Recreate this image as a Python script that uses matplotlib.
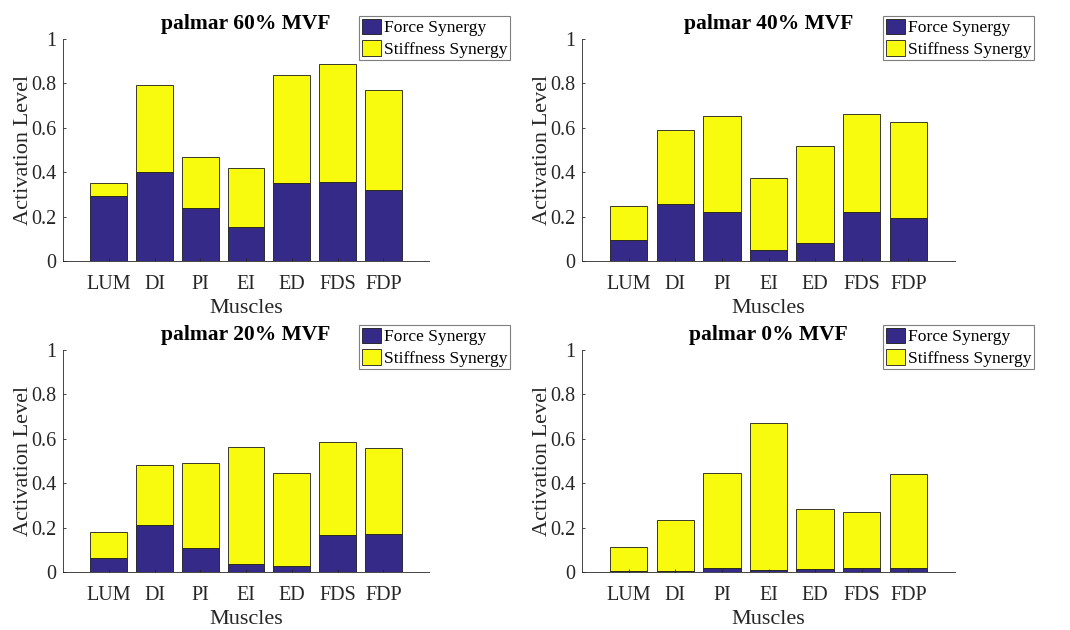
import matplotlib
matplotlib.use("Agg")
import matplotlib.pyplot as plt
import numpy as np

plt.rcParams['font.family'] = ['Liberation Serif', 'DejaVu Serif']

muscles = ["LUM", "DI", "PI", "EI", "ED", "FDS", "FDP"]
titles = ["palmar 60% MVF", "palmar 40% MVF", "palmar 20% MVF", "palmar 0% MVF"]

# force-synergy activation per muscle
force_60 = [0.295, 0.400, 0.237, 0.153, 0.352, 0.357, 0.322]
force_40 = [0.093, 0.258, 0.219, 0.051, 0.082, 0.219, 0.192]
force_20 = [0.063, 0.211, 0.109, 0.036, 0.027, 0.168, 0.171]
force_0 = [0.004, 0.003, 0.019, 0.010, 0.015, 0.018, 0.016]

# stiffness-synergy activation stacked on top of the force part
stiff_60 = [0.056, 0.395, 0.231, 0.265, 0.488, 0.531, 0.447]
stiff_40 = [0.153, 0.334, 0.435, 0.322, 0.437, 0.442, 0.432]
stiff_20 = [0.117, 0.270, 0.384, 0.526, 0.417, 0.417, 0.387]
stiff_0 = [0.108, 0.231, 0.429, 0.662, 0.268, 0.252, 0.425]

force_sets = [force_60, force_40, force_20, force_0]
stiff_sets = [stiff_60, stiff_40, stiff_20, stiff_0]

FORCE_COLOR = "#352a87"
STIFF_COLOR = "#f9fb0e"
AXIS_GRAY = "#262626"

W, H = 1070, 630
fig = plt.figure(figsize=(W / 100, H / 100), dpi=100)

# panel rectangles in pixels: (left, top, right, bottom)
panels = [(63, 39, 429, 261), (582, 39, 955, 261),
          (63, 350, 429, 572), (582, 350, 955, 572)]
legend_corners = [(359, 16), (883, 16), (359, 325), (883, 325)]

x = np.arange(1, len(muscles) + 1)

for k in range(4):
    l, t, r, b = panels[k]
    ax = fig.add_axes([l / W, 1 - b / H, (r - l) / W, (b - t) / H])
    f = np.array(force_sets[k])
    s = np.array(stiff_sets[k])
    ax.bar(x, f, width=0.8, color=FORCE_COLOR, edgecolor="#1a1a1a",
           linewidth=0.6, label="Force Synergy")
    ax.bar(x, s, width=0.8, bottom=f, color=STIFF_COLOR, edgecolor="#1a1a1a",
           linewidth=0.6, label="Stiffness Synergy")
    ax.set_xlim(0, 8)
    ax.set_ylim(0, 1)
    ax.set_xticks(x)
    ax.set_xticklabels(muscles)
    ax.set_yticks([0, 0.2, 0.4, 0.6, 0.8, 1])
    ax.set_yticklabels(["0", "0.2", "0.4", "0.6", "0.8", "1"])
    for side in ("top", "right"):
        ax.spines[side].set_visible(False)
    for side in ("left", "bottom"):
        ax.spines[side].set_color(AXIS_GRAY)
        ax.spines[side].set_linewidth(0.6)
    ax.tick_params(direction="in", length=2.5, width=0.6, colors=AXIS_GRAY,
                   labelsize=14.5, labelcolor=AXIS_GRAY, pad=5)
    ax.tick_params(axis="x", pad=10)
    ax.set_title(titles[k], fontsize=15.5, fontweight="bold", pad=7)
    ax.set_xlabel("Muscles", fontsize=16, color=AXIS_GRAY, labelpad=4)
    ax.set_ylabel("Activation Level", fontsize=16, color=AXIS_GRAY, labelpad=-1.5)
    lx, ly = legend_corners[k]
    leg = ax.legend(loc="upper left", bbox_to_anchor=(lx / W, 1 - ly / H),
                    bbox_transform=fig.transFigure, fontsize=12.6,
                    frameon=True, fancybox=False, framealpha=1,
                    edgecolor="#7f7f7f", borderpad=0.15, labelspacing=0.2,
                    handlelength=1.1, handleheight=1.0, handletextpad=0.15,
                    borderaxespad=0)
    leg.get_frame().set_linewidth(0.8)

fig.savefig("out.png", dpi=100)
